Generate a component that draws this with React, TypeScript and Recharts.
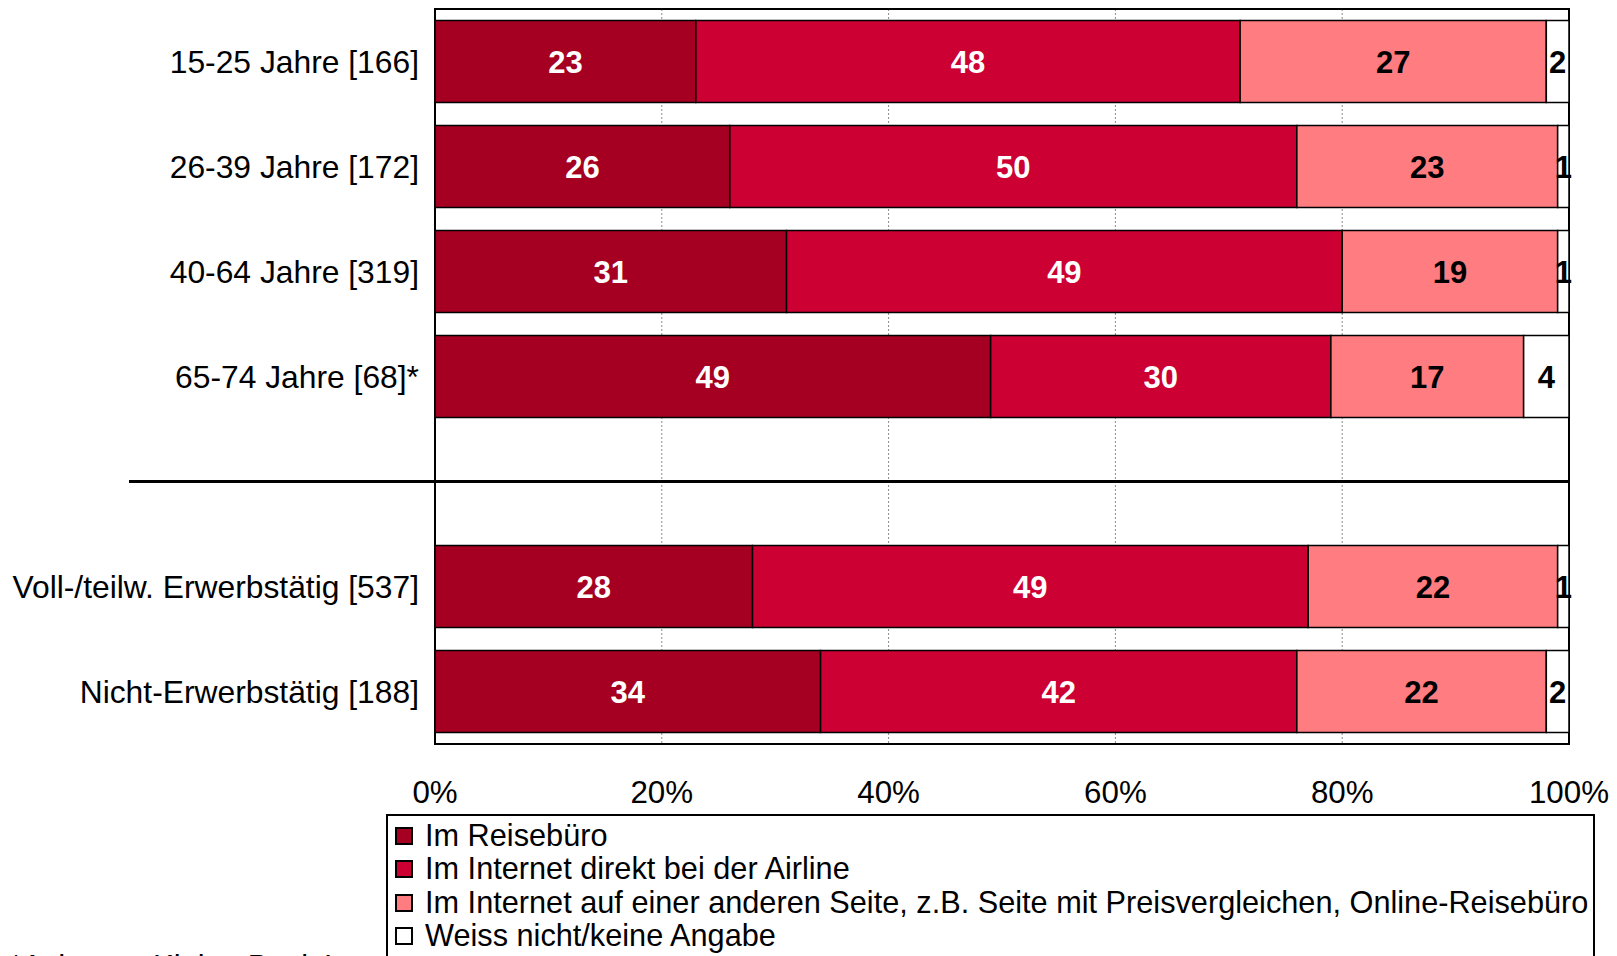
import React from "react";
import {
  BarChart,
  Bar,
  XAxis,
  YAxis,
  CartesianGrid,
  LabelList,
  ReferenceLine,
  ReferenceArea,
  Legend,
} from "recharts";

const categories = [
  "15-25 Jahre [166]",
  "26-39 Jahre [172]",
  "40-64 Jahre [319]",
  "65-74 Jahre [68]*",
  " ",
  "Voll-/teilw. Erwerbstätig [537]",
  "Nicht-Erwerbstätig [188]",
];

const reisebuero = [23, 26, 31, 49, null, 28, 34];
const internetAirline = [48, 50, 49, 30, null, 49, 42];
const internetAndere = [27, 23, 19, 17, null, 22, 22];
const weissNicht = [2, 1, 1, 4, null, 1, 2];

const seriesNames = [
  "Im Reisebüro",
  "Im Internet direkt bei der Airline",
  "Im Internet auf einer anderen Seite, z.B. Seite mit Preisvergleichen, Online-Reisebüro",
  "Weiss nicht/keine Angabe",
];
const seriesKeys = ["a", "b", "c", "d"];
const seriesColors = ["#A50021", "#CC0033", "#FF7C80", "#FFFFFF"];
const labelColors = ["#FFFFFF", "#FFFFFF", "#000000", "#000000"];

const xTicks = [0, 20, 40, 60, 80, 100];
const footnote = "*Achtung: Kleine Basis!";

const data = categories.map((name, i) => {
  const row: any = { name };
  if (reisebuero[i] != null) row.a = reisebuero[i];
  if (internetAirline[i] != null) row.b = internetAirline[i];
  if (internetAndere[i] != null) row.c = internetAndere[i];
  if (weissNicht[i] != null) row.d = weissNicht[i];
  return row;
});

const FONT = "'Liberation Sans', Arial, Helvetica, sans-serif";

const renderLegend = () => (
  <div
    style={{
      boxSizing: "border-box",
      width: "100%",
      height: "100%",
      border: "2px solid #000",
      background: "#fff",
      padding: "3px 0 0 7px",
      fontFamily: FONT,
      fontSize: 30.7,
      color: "#000",
    }}
  >
    {seriesNames.map((n, i) => (
      <div
        key={n}
        style={{ display: "flex", alignItems: "center", height: 33.5, whiteSpace: "nowrap" }}
      >
        <span
          style={{
            display: "inline-block",
            boxSizing: "border-box",
            width: 18,
            height: 18,
            border: "2px solid #000",
            background: seriesColors[i],
            marginRight: 12,
            flexShrink: 0,
          }}
        />
        <span>{n}</span>
      </div>
    ))}
  </div>
);

const SeparatorShape = (p: any) => (
  <line
    x1={p.x1 - 306}
    y1={p.y1}
    x2={p.x2}
    y2={p.y2}
    stroke="#000"
    strokeWidth={3}
  />
);

export default function App() {
  return (
    <div
      style={{
        position: "absolute",
        left: 0,
        top: 0,
        width: 1617,
        height: 956,
        overflow: "hidden",
        background: "#fff",
        fontFamily: FONT,
      }}
    >
      <BarChart
        width={1617}
        height={956}
        data={data}
        layout="vertical"
        margin={{ top: 9, right: 48, bottom: 152, left: 0 }}
        barCategoryGap="11%"
        style={{ fontFamily: FONT }}
      >
        <CartesianGrid
          horizontal={false}
          vertical={true}
          stroke="#8c8c8c"
          strokeDasharray="2 2"
          strokeWidth={1}
        />
        <XAxis
          type="number"
          domain={[0, 100]}
          ticks={xTicks}
          interval={0}
          tickFormatter={(v: number) => `${v}%`}
          axisLine={false}
          tickLine={false}
          tickSize={0}
          tickMargin={37}
          height={60}
          tick={{ fill: "#000", fontSize: 31.3, fontFamily: FONT }}
        />
        <YAxis
          type="category"
          dataKey="name"
          width={435}
          interval={0}
          axisLine={false}
          tickLine={false}
          tickSize={0}
          tickMargin={16}
          tick={{ fill: "#000", fontSize: 31.8, fontFamily: FONT }}
        />
        {seriesKeys.map((k, i) => (
          <Bar
            key={k}
            dataKey={k}
            name={seriesNames[i]}
            stackId="s"
            fill={seriesColors[i]}
            stroke="#000"
            strokeWidth={1.5}
            isAnimationActive={false}
          >
            <LabelList
              dataKey={k}
              position="center"
              fill={labelColors[i]}
              fontSize={31}
              fontWeight="bold"
              fontFamily={FONT}
            />
          </Bar>
        ))}
        <ReferenceLine y=" " shape={SeparatorShape} />
        <ReferenceArea
          x1={0}
          x2={100}
          fill="none"
          fillOpacity={0}
          stroke="#000"
          strokeWidth={2}
          ifOverflow="visible"
        />
        <Legend
          layout="vertical"
          verticalAlign="middle"
          align="center"
          wrapperStyle={{ left: 386, top: 814, width: 1209, height: 170 }}
          content={renderLegend}
        />
      </BarChart>
      <div
        style={{
          position: "absolute",
          left: 10,
          top: 951,
          fontSize: 31,
          lineHeight: "31px",
          color: "#000",
          whiteSpace: "nowrap",
          fontFamily: FONT,
        }}
      >
        {footnote}
      </div>
    </div>
  );
}
